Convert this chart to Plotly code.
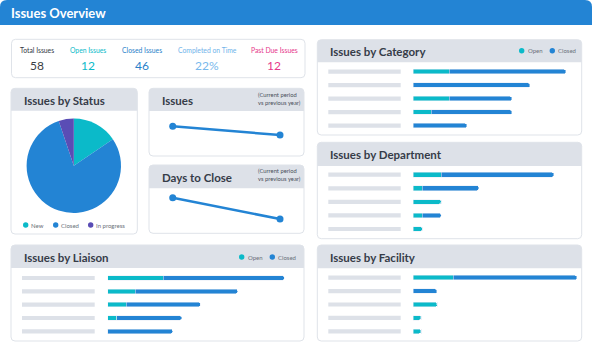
import plotly.graph_objects as go

W, H = 593, 355

# ---------------- data ----------------
kpi_labels = ["Total Issues", "Open Issues", "Closed Issues", "Completed on Time", "Past Due Issues"]
kpi_values = ["58", "12", "46", "22%", "12"]

status_labels = ["New", "Closed", "In progress"]
status_values = [9, 46, 3]

trend_periods = ["Previous year", "Current period"]
issues_trend = [66, 58]
days_to_close_trend = [14, 9]

category_names = ["Category 1", "Category 2", "Category 3", "Category 4", "Category 5"]
category_open = [4, 0, 4, 2, 0]
category_closed = [13, 13, 7, 9, 6]

department_names = ["Department 1", "Department 2", "Department 3", "Department 4", "Department 5"]
department_open = [6, 2, 6, 2, 2]
department_closed = [24, 12, 0, 4, 0]

liaison_names = ["Liaison 1", "Liaison 2", "Liaison 3", "Liaison 4", "Liaison 5"]
liaison_open = [6, 3, 2, 1, 0]
liaison_closed = [13, 11, 8, 7, 7]

facility_names = ["Facility 1", "Facility 2", "Facility 3", "Facility 4", "Facility 5"]
facility_open = [10, 0, 6, 2, 2]
facility_closed = [31, 6, 0, 0, 0]

# ---------------- styles ----------------
BLUE = "#2384d4"
TEAL = "#0bbac9"
PURPLE = "#5a4db5"
HEAD_GRAY = "#dde1e8"
BORDER = "#dfe3e9"
PLACE = "#dde1e8"
TITLE_C = "#363c48"
FONT = "Lato"


def X(px):
    return px / W


def Y(py):
    return 1 - py / H


def rrect(x0, y0, x1, y1, r, top_only=False):
    p = f"M {X(x0)},{Y(y0 + r)} Q {X(x0)},{Y(y0)} {X(x0 + r)},{Y(y0)} "
    p += f"L {X(x1 - r)},{Y(y0)} Q {X(x1)},{Y(y0)} {X(x1)},{Y(y0 + r)} "
    if top_only:
        p += f"L {X(x1)},{Y(y1)} L {X(x0)},{Y(y1)} Z"
    else:
        p += f"L {X(x1)},{Y(y1 - r)} Q {X(x1)},{Y(y1)} {X(x1 - r)},{Y(y1)} "
        p += f"L {X(x0 + r)},{Y(y1)} Q {X(x0)},{Y(y1)} {X(x0)},{Y(y1 - r)} Z"
    return p


shapes = []
annotations = []


def text(x, y, s, size, color, anchor="left", weight="normal"):
    annotations.append(dict(
        x=X(x), y=Y(y), xref="paper", yref="paper", text=s, showarrow=False,
        xanchor=anchor, yanchor="middle", align="left",
        font=dict(family=FONT, size=size, color=color, weight=weight),
    ))


def dot(cx, cy, r, color):
    shapes.append(dict(type="circle", xref="paper", yref="paper",
                       x0=X(cx - r), x1=X(cx + r), y0=Y(cy + r), y1=Y(cy - r),
                       fillcolor=color, line=dict(width=0), layer="below"))


def card(x0, y0, x1, y1, head_h, title):
    shapes.append(dict(type="path", xref="paper", yref="paper", path=rrect(x0, y0, x1, y1, 4),
                       fillcolor="white", line=dict(width=0), layer="below"))
    if head_h:
        shapes.append(dict(type="path", xref="paper", yref="paper",
                           path=rrect(x0, y0, x1, y0 + head_h, 4, top_only=True),
                           fillcolor=HEAD_GRAY, line=dict(width=0), layer="below"))
    shapes.append(dict(type="path", xref="paper", yref="paper", path=rrect(x0, y0, x1, y1, 4),
                       fillcolor="rgba(0,0,0,0)", line=dict(width=1, color=BORDER), layer="below"))
    if title:
        text(x0 + 10.5, y0 + head_h / 2 + 0.5, title, 11.5, TITLE_C, weight="bold")


# main header
shapes.append(dict(type="path", xref="paper", yref="paper",
                   path=rrect(0, 0, 592, 25, 7, top_only=True),
                   fillcolor=BLUE, line=dict(width=0), layer="below"))
text(9, 12.7, "Issues Overview", 13, "white", weight="bold")

# KPI card
card(11.5, 39.3, 305, 77.7, 0, None)
kpi_x = [37, 88, 142, 207, 274]
kpi_lc = ["#333a44", TEAL, "#2a7fc9", "#6fb3ea", "#e6388b"]
kpi_vc = ["#3a3d44", TEAL, "#2a7fc9", "#78b8ec", "#e6388b"]
for i in range(len(kpi_labels)):
    text(kpi_x[i], 49.5, kpi_labels[i], 6.8, kpi_lc[i], anchor="center")
    text(kpi_x[i], 65.3, kpi_values[i], 12, kpi_vc[i], anchor="center")

# cards
card(11, 88.3, 137.3, 234, 22.4, "Issues by Status")
card(149, 88.3, 304, 156, 22.7, "Issues")
card(149, 165, 304, 233.3, 23.3, "Days to Close")
card(317.3, 39.7, 581.7, 135, 22.6, "Issues by Category")
card(317.3, 142.3, 581.7, 238.7, 23.7, "Issues by Department")
card(11, 245, 304, 341, 23, "Issues by Liaison")
card(317.3, 245, 581.7, 341, 23.3, "Issues by Facility")

# subtitles
for yy in (98.7, 174.3):
    text(256, yy, "(Current period<br>vs previous year)", 5.8, "#4a4f5a")

# legends
GRAYTXT = "#6b707a"
for (cx, lab, col) in [(25.7, "New", TEAL), (55.7, "Closed", BLUE), (90.7, "In progress", PURPLE)]:
    dot(cx, 225, 2.7, col)
    text(cx + 3.5, 225, lab, 6, GRAYTXT)
for (cx, cy) in [(521.7, 50.7), (241.7, 257)]:
    dot(cx, cy, 2.7, TEAL)
    text(cx + 4, cy, "Open", 6, GRAYTXT)
    dot(cx + 30.6, cy, 2.7, BLUE)
    text(cx + 34.3, cy, "Closed", 6, GRAYTXT)

fig = go.Figure()

# pie
fig.add_trace(go.Pie(
    labels=status_labels, values=status_values, sort=False, direction="clockwise",
    rotation=0, textinfo="none", marker=dict(colors=[TEAL, BLUE, PURPLE], line=dict(width=0)),
    domain=dict(x=[X(26.6), X(121)], y=[Y(213), Y(118.6)]), showlegend=False,
))

# trend lines
fig.add_trace(go.Scatter(x=trend_periods, y=issues_trend, mode="lines+markers",
                         line=dict(color=BLUE, width=2.5), marker=dict(size=7, color=BLUE),
                         xaxis="x", yaxis="y", showlegend=False))
fig.add_trace(go.Scatter(x=trend_periods, y=days_to_close_trend, mode="lines+markers",
                         line=dict(color=BLUE, width=2.5), marker=dict(size=7, color=BLUE),
                         xaxis="x2", yaxis="y2", showlegend=False))

hidden = dict(visible=False, showgrid=False, zeroline=False, fixedrange=True)
layout_axes = {}
layout_axes["xaxis"] = dict(hidden, domain=[X(149), X(303)], range=[-0.221, 1.214], type="category")
layout_axes["yaxis"] = dict(hidden, domain=[Y(156), Y(111)], range=[38.69, 80.07])
layout_axes["xaxis2"] = dict(hidden, domain=[X(149), X(303)], range=[-0.221, 1.214], type="category")
layout_axes["yaxis2"] = dict(hidden, domain=[Y(233.3), Y(188.3)], range=[5.65, 16.21])

# bar panels: (names, open, closed, x_start_px, px_per_unit, range_max, row0_y, step, label_x0, label_x1)
panels = [
    (category_names, category_open, category_closed, 413, 9.0, 18, 71.7, 13.5, 328.3, 400.7),
    (department_names, department_open, department_closed, 413, 4.7, 35, 174.7, 13.58, 328.3, 400.7),
    (liaison_names, liaison_open, liaison_closed, 107.5, 9.3, 20, 278, 13.33, 22, 94.7),
    (facility_names, facility_open, facility_closed, 413, 4.0, 42, 277.7, 13.4, 328.3, 400.7),
]
for k, (names, op, cl, xs, ppu, rmax, r0, step, lx0, lx1) in enumerate(panels):
    ax = k + 3
    xa, ya = f"x{ax}", f"y{ax}"
    n = len(names)
    top = r0 - step / 2
    bot = r0 + step * (n - 1) + step / 2
    layout_axes[f"xaxis{ax}"] = dict(hidden, domain=[X(xs), X(xs + ppu * rmax)], range=[0, rmax])
    layout_axes[f"yaxis{ax}"] = dict(hidden, domain=[Y(bot), Y(top)], range=[n - 0.5, -0.5],
                                     type="category", categoryorder="array", categoryarray=names)
    fig.add_trace(go.Bar(y=names, x=op, orientation="h", marker=dict(color=TEAL, cornerradius=2.3),
                         width=0.34, xaxis=xa, yaxis=ya, showlegend=False))
    fig.add_trace(go.Bar(y=names, x=cl, orientation="h", marker=dict(color=BLUE),
                         width=0.34, xaxis=xa, yaxis=ya, showlegend=False))
    for i in range(n):
        shapes.append(dict(type="line", xref="paper", yref=ya, x0=X(lx0), x1=X(lx1), y0=i, y1=i,
                           line=dict(color=PLACE, width=4.2), layer="below"))

fig.update_layout(
    width=W, height=H, autosize=False, margin=dict(l=0, r=0, t=0, b=0),
    paper_bgcolor="white", plot_bgcolor="rgba(0,0,0,0)", barmode="stack",
    shapes=shapes, annotations=annotations, showlegend=False,
    font=dict(family=FONT), **layout_axes,
)

fig.write_html("out.html", config={"displayModeBar": False},
               post_script="document.body.style.margin='0';document.body.style.overflow='hidden';")
